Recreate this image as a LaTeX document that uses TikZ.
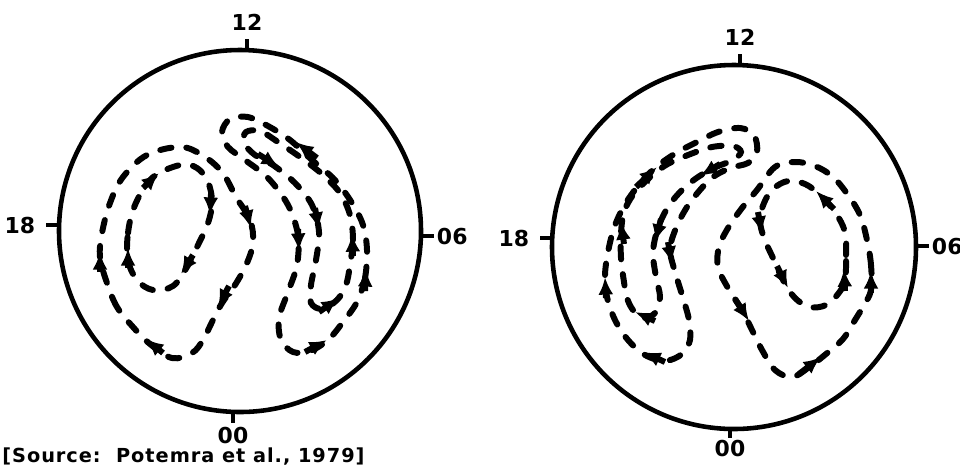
\documentclass[tikz,border=0pt]{standalone}
\usepackage{fontspec}
\setsansfont{DejaVu Sans}
\usepackage{tikz}
\usetikzlibrary{arrows.meta,positioning}

\tikzset{
  rim/.style={line width=2.6pt},
  cell/.style={line width=3.4pt, line cap=round, dash pattern=on 6.5pt off 8.5pt},
  flowtip/.style={-{Latex[length=10pt,width=8.5pt]}, line width=3.4pt},
  hour/.style={font=\sffamily\bfseries\fontsize{12.5}{14}\selectfont, inner sep=0pt},
}

\begin{document}
\begin{tikzpicture}[x=0.02cm, y=-0.02cm]
        \useasboundingbox (0,0) rectangle (960,464);
        %Left dial
        \draw[rim] (240,231) circle (181);
        \coordinate (a12) at (247,39);
        \coordinate (a18) at (46,225);
        \coordinate (a06) at (434,236);
        \coordinate (a00) at (233,423);
        \draw[rim] (247,50) -- (a12);
        \draw[rim] (59,225) -- (a18);
        \draw[rim] (421,236) -- (a06);
        \draw[rim] (233,412) -- (a00);
        \node[hour, above=4.5pt of a12] (la12) {12};
        \node[hour, left=6pt of a18] (la18) {18};
        \node[hour, right=1.5pt of a06] (la06) {06};
        \node[hour, below=2pt of a00] (la00) {00};
        %Right dial
        \draw[rim] (734,247) circle (182);
        \coordinate (b12) at (740,54);
        \coordinate (b18) at (540,238);
        \coordinate (b06) at (929,246);
        \coordinate (b00) at (730,438);
        \draw[rim] (740,65) -- (b12);
        \draw[rim] (552,238) -- (b18);
        \draw[rim] (916,246) -- (b06);
        \draw[rim] (730,429) -- (b00);
        \node[hour, above=4.5pt of b12] (lb12) {12};
        \node[hour, left=6pt of b18] (lb18) {18};
        \node[hour, right=1.5pt of b06] (lb06) {06};
        \node[hour, below=1pt of b00] (lb00) {00};
        %Left dial: dusk cell
        \draw[cell] plot[smooth cycle, tension=0.6] coordinates {(133,327) (117,307) (107,283) (100,257) (102,233) (110,203) (123,177) (147,155) (180,147) (202,155) (222,172) (236,197) (250,220) (253,242) (247,263) (235,285) (222,303) (212,322) (203,340) (192,353) (172,358) (150,344)};
        \draw[cell] plot[smooth cycle, tension=0.6] coordinates {(128,260) (128,233) (135,205) (152,178) (180,165) (197,168) (208,182) (212,202) (208,223) (197,247) (187,267) (173,286) (153,290) (137,280)};
        %Left dial: dawn crescent
        \draw[cell] plot[smooth cycle, tension=0.55] coordinates {(357,302) (365,278) (367,250) (363,225) (352,203) (335,180) (312,160) (290,140) (268,126) (248,117) (230,119) (222,132) (228,147) (245,160) (268,178) (288,205) (298,235) (297,265) (288,292) (279,318) (281,340) (293,352) (310,351) (328,340) (343,322)};
        \draw[cell] plot[smooth cycle, tension=0.55] coordinates {(350,265) (353,240) (350,215) (340,193) (322,174) (300,157) (278,142) (260,131) (246,132) (244,143) (255,155) (273,165) (295,183) (312,205) (319,232) (316,260) (311,285) (311,303) (322,309) (337,300) (346,285)};
        %Right dial: dusk crescent
        \draw[cell] plot[smooth cycle, tension=0.55] coordinates {(607,297) (605,275) (608,252) (614,228) (624,206) (638,186) (655,168) (676,153) (697,142) (718,132) (740,128) (754,135) (757,152) (748,163) (730,168) (713,177) (700,190) (687,207) (676,228) (670,250) (676,275) (683,298) (689,320) (690,340) (682,354) (665,361) (645,355) (628,340) (615,320)};
        \draw[cell] plot[smooth cycle, tension=0.55] coordinates {(624,282) (621,258) (621,233) (624,212) (633,195) (648,179) (666,165) (688,155) (712,147) (733,146) (741,152) (733,160) (716,167) (698,177) (682,190) (668,207) (658,228) (653,252) (656,277) (660,297) (655,313) (643,318) (633,310) (627,298)};
        %Right dial: dawn cell
        \draw[cell] plot[smooth cycle, tension=0.6] coordinates {(871,290) (871,265) (867,240) (860,215) (848,195) (833,177) (815,166) (795,162) (775,167) (757,190) (742,208) (728,228) (719,247) (718,267) (728,288) (742,310) (752,330) (762,350) (775,370) (792,377) (808,368) (826,354) (843,339) (855,320) (864,305)};
        \draw[cell] plot[smooth cycle, tension=0.6] coordinates {(845,280) (846,255) (845,232) (835,212) (820,195) (805,184) (788,181) (773,189) (764,203) (760,220) (764,238) (773,258) (783,280) (795,298) (810,307) (826,305) (838,294)};
        %Flow arrows
        \foreach \xa/\ya/\xb/\yb in {100/272/100/252, 163/353/146/339, 245/206/251/228, 229/286/218/307,
                                     128/268/128/248, 193/255/181/274, 211/194/210/215, 143/188/159/173,
                                     365/291/366/269, 305/352/327/340, 298/229/299/251, 317/158/296/142,
                                     353/256/352/234, 258/154/279/167, 315/208/319/230, 319/312/339/298,
                                     606/298/605/277, 665/362/643/352, 668/242/672/264, 636/187/657/167,
                                     624/244/621/222, 655/321/635/312, 661/219/655/242, 720/164/700/176,
                                     871/293/871/271, 799/374/821/357, 735/299/749/321,
                                     845/291/844/269, 834/209/816/191, 777/266/788/288, 758/212/762/234}
          \draw[flowtip] (\xa,\ya) -- (\xb,\yb);
        %Source
        \node[anchor=base west, inner sep=0pt, font=\sffamily\bfseries\fontsize{11}{13}\selectfont\addfontfeature{LetterSpace=5}] (src) at (2,462) {[Source:\ \ Potemra et al., 1979]};
\end{tikzpicture}
\end{document}
